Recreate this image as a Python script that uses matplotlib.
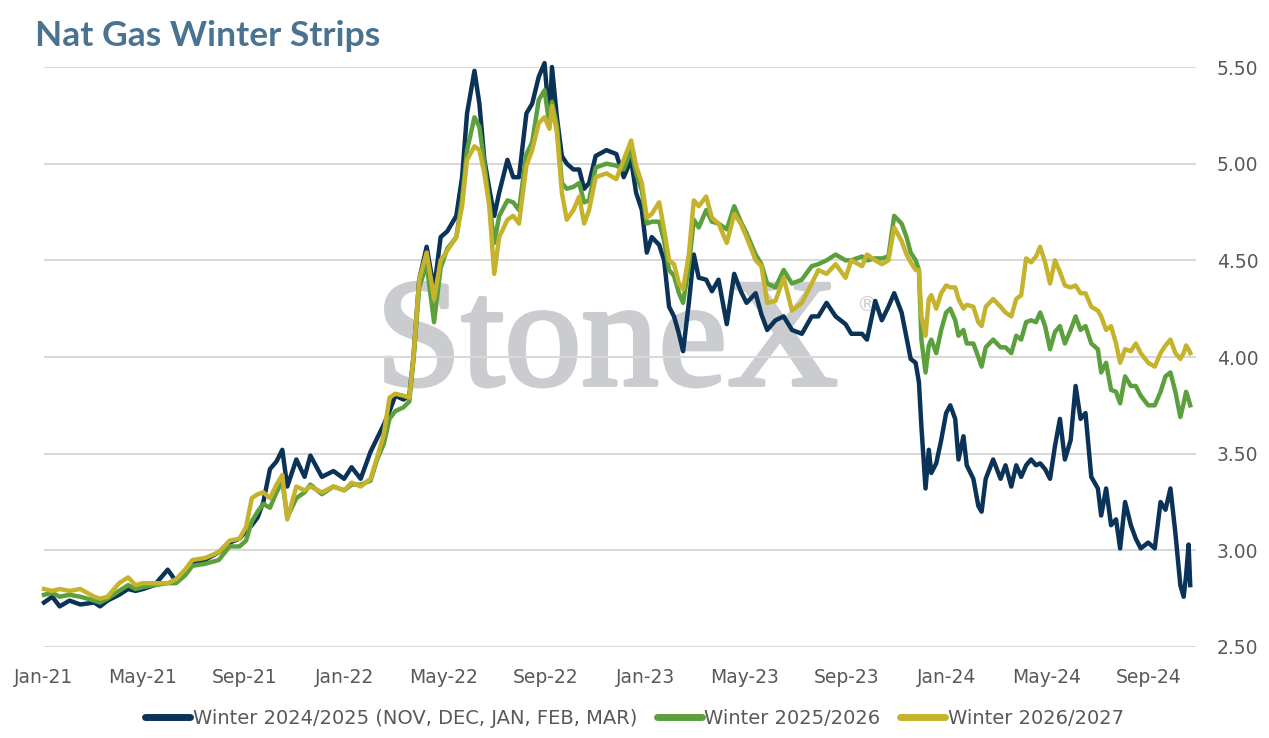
import pandas as pd
import matplotlib.pyplot as plt
import matplotlib.dates as mdates
import matplotlib.patheffects as pe

dates = [
    '2021-01-01', '2021-01-11', '2021-01-20', '2021-02-01', '2021-02-14', '2021-03-03', '2021-03-10',
    '2021-03-19', '2021-04-02', '2021-04-13', '2021-04-22', '2021-05-01', '2021-05-15', '2021-05-31',
    '2021-06-10', '2021-06-21', '2021-06-30', '2021-07-15', '2021-08-01', '2021-08-14', '2021-08-26',
    '2021-09-03', '2021-09-10', '2021-09-17', '2021-09-24', '2021-10-02', '2021-10-10', '2021-10-17',
    '2021-10-23', '2021-11-03', '2021-11-13', '2021-11-20', '2021-12-04', '2021-12-18', '2021-12-31',
    '2022-01-09', '2022-01-20', '2022-02-01', '2022-02-09', '2022-02-17', '2022-02-24', '2022-03-03',
    '2022-03-13', '2022-03-20', '2022-03-25', '2022-04-01', '2022-04-10', '2022-04-19', '2022-04-27',
    '2022-05-05', '2022-05-16', '2022-05-23', '2022-05-29', '2022-06-07', '2022-06-13', '2022-06-19',
    '2022-06-25', '2022-07-01', '2022-07-07', '2022-07-17', '2022-07-24', '2022-07-31', '2022-08-09',
    '2022-08-16', '2022-08-24', '2022-08-31', '2022-09-06', '2022-09-09', '2022-09-15', '2022-09-21',
    '2022-09-27', '2022-10-05', '2022-10-12', '2022-10-18', '2022-10-24', '2022-11-01', '2022-11-14',
    '2022-11-26', '2022-12-05', '2022-12-14', '2022-12-20', '2022-12-27', '2023-01-02', '2023-01-08',
    '2023-01-17', '2023-01-23', '2023-01-29', '2023-02-04', '2023-02-10', '2023-02-15', '2023-02-22',
    '2023-02-28', '2023-03-06', '2023-03-15', '2023-03-22', '2023-03-30', '2023-04-09', '2023-04-18',
    '2023-04-26', '2023-05-03', '2023-05-14', '2023-05-21', '2023-05-28', '2023-06-07', '2023-06-17',
    '2023-06-27', '2023-07-09', '2023-07-21', '2023-07-29', '2023-08-08', '2023-08-19', '2023-08-31',
    '2023-09-07', '2023-09-20', '2023-09-26', '2023-10-06', '2023-10-14', '2023-10-22', '2023-10-29',
    '2023-11-07', '2023-11-13', '2023-11-18', '2023-11-24', '2023-11-28', '2023-12-01', '2023-12-06',
    '2023-12-10', '2023-12-13', '2023-12-19', '2023-12-25', '2023-12-31', '2024-01-05', '2024-01-11',
    '2024-01-15', '2024-01-21', '2024-01-25', '2024-02-02', '2024-02-08', '2024-02-12', '2024-02-17',
    '2024-02-26', '2024-03-06', '2024-03-12', '2024-03-19', '2024-03-25', '2024-03-31', '2024-04-06',
    '2024-04-12', '2024-04-18', '2024-04-23', '2024-04-29', '2024-05-05', '2024-05-11', '2024-05-17',
    '2024-05-23', '2024-05-30', '2024-06-05', '2024-06-11', '2024-06-17', '2024-06-24', '2024-07-02',
    '2024-07-06', '2024-07-12', '2024-07-18', '2024-07-24', '2024-07-29', '2024-08-04', '2024-08-11',
    '2024-08-17', '2024-08-23', '2024-09-01', '2024-09-09', '2024-09-16', '2024-09-22', '2024-09-28',
    '2024-10-04', '2024-10-10', '2024-10-14', '2024-10-17', '2024-10-20', '2024-10-22',
]

winter_24_25 = [
    2.73, 2.76, 2.71, 2.74, 2.72, 2.73, 2.71, 2.74, 2.77, 2.80, 2.79, 2.80, 2.82, 2.90,
    2.84, 2.88, 2.93, 2.95, 2.99, 3.04, 3.06, 3.10, 3.13, 3.17, 3.25, 3.42, 3.46, 3.52,
    3.33, 3.47, 3.38, 3.49, 3.38, 3.41, 3.37, 3.43, 3.37, 3.51, 3.58, 3.65, 3.72, 3.80,
    3.78, 3.80, 4.00, 4.40, 4.57, 4.35, 4.62, 4.65, 4.73, 4.93, 5.26, 5.48, 5.31, 5.02,
    4.87, 4.73, 4.85, 5.02, 4.93, 4.93, 5.26, 5.31, 5.45, 5.52, 5.21, 5.50, 5.24, 5.04,
    5.00, 4.97, 4.97, 4.87, 4.90, 5.04, 5.07, 5.05, 4.93, 5.02, 4.85, 4.76, 4.54, 4.62,
    4.58, 4.50, 4.26, 4.21, 4.12, 4.03, 4.28, 4.53, 4.41, 4.40, 4.34, 4.40, 4.17, 4.43,
    4.34, 4.28, 4.33, 4.22, 4.14, 4.19, 4.21, 4.14, 4.12, 4.21, 4.21, 4.28, 4.21, 4.17,
    4.12, 4.12, 4.09, 4.29, 4.19, 4.26, 4.33, 4.23, 4.10, 3.99, 3.97, 3.87, 3.64, 3.32,
    3.52, 3.40, 3.45, 3.57, 3.71, 3.75, 3.68, 3.47, 3.59, 3.44, 3.37, 3.23, 3.20, 3.37,
    3.47, 3.37, 3.44, 3.33, 3.44, 3.38, 3.44, 3.47, 3.44, 3.45, 3.42, 3.37, 3.54, 3.68,
    3.47, 3.57, 3.85, 3.68, 3.71, 3.38, 3.32, 3.18, 3.32, 3.13, 3.16, 3.01, 3.25, 3.13,
    3.06, 3.01, 3.04, 3.01, 3.25, 3.21, 3.32, 3.09, 2.82, 2.76, 2.87, 3.03, 2.82,
]

winter_25_26 = [
    2.77, 2.78, 2.76, 2.77, 2.76, 2.74, 2.73, 2.75, 2.79, 2.82, 2.80, 2.81, 2.82, 2.83,
    2.83, 2.87, 2.92, 2.93, 2.95, 3.02, 3.02, 3.05, 3.15, 3.20, 3.24, 3.22, 3.30, 3.36,
    3.17, 3.27, 3.30, 3.34, 3.29, 3.33, 3.31, 3.34, 3.34, 3.36, 3.47, 3.55, 3.68, 3.72,
    3.74, 3.77, 3.98, 4.36, 4.48, 4.18, 4.46, 4.56, 4.62, 4.82, 5.07, 5.24, 5.19, 5.00,
    4.80, 4.59, 4.73, 4.81, 4.80, 4.76, 5.05, 5.11, 5.33, 5.38, 5.20, 5.32, 5.20, 4.90,
    4.87, 4.88, 4.90, 4.80, 4.81, 4.98, 5.00, 4.99, 4.97, 5.07, 4.95, 4.86, 4.69, 4.70,
    4.70, 4.60, 4.45, 4.42, 4.33, 4.28, 4.47, 4.71, 4.67, 4.76, 4.70, 4.69, 4.66, 4.78,
    4.70, 4.64, 4.53, 4.48, 4.38, 4.36, 4.45, 4.38, 4.40, 4.47, 4.48, 4.50, 4.53, 4.50,
    4.50, 4.52, 4.50, 4.51, 4.51, 4.52, 4.73, 4.69, 4.62, 4.54, 4.50, 4.45, 4.09, 3.92,
    4.06, 4.09, 4.02, 4.14, 4.23, 4.25, 4.19, 4.11, 4.14, 4.07, 4.07, 4.00, 3.95, 4.05,
    4.09, 4.05, 4.05, 4.02, 4.11, 4.09, 4.18, 4.19, 4.18, 4.23, 4.16, 4.04, 4.13, 4.16,
    4.07, 4.14, 4.21, 4.14, 4.16, 4.07, 4.04, 3.92, 3.97, 3.83, 3.82, 3.76, 3.90, 3.85,
    3.85, 3.80, 3.75, 3.75, 3.82, 3.90, 3.92, 3.82, 3.69, 3.76, 3.82, 3.78, 3.75,
]

winter_26_27 = [
    2.80, 2.79, 2.80, 2.79, 2.80, 2.76, 2.75, 2.76, 2.83, 2.86, 2.82, 2.83, 2.83, 2.83,
    2.85, 2.90, 2.95, 2.96, 2.99, 3.05, 3.06, 3.12, 3.27, 3.29, 3.30, 3.27, 3.34, 3.39,
    3.16, 3.33, 3.31, 3.33, 3.30, 3.33, 3.31, 3.35, 3.33, 3.37, 3.48, 3.60, 3.79, 3.81,
    3.80, 3.79, 4.00, 4.40, 4.54, 4.30, 4.50, 4.55, 4.62, 4.78, 5.02, 5.09, 5.07, 4.95,
    4.78, 4.43, 4.62, 4.71, 4.73, 4.69, 4.99, 5.07, 5.21, 5.24, 5.18, 5.30, 5.16, 4.85,
    4.71, 4.76, 4.83, 4.69, 4.76, 4.93, 4.95, 4.92, 5.02, 5.12, 4.99, 4.90, 4.72, 4.74,
    4.80, 4.66, 4.50, 4.48, 4.38, 4.35, 4.53, 4.81, 4.78, 4.83, 4.72, 4.69, 4.59, 4.74,
    4.69, 4.62, 4.50, 4.47, 4.28, 4.29, 4.41, 4.24, 4.28, 4.38, 4.45, 4.43, 4.48, 4.41,
    4.50, 4.47, 4.53, 4.50, 4.48, 4.50, 4.67, 4.60, 4.53, 4.49, 4.45, 4.45, 4.21, 4.11,
    4.30, 4.32, 4.25, 4.33, 4.37, 4.36, 4.36, 4.30, 4.25, 4.27, 4.26, 4.18, 4.16, 4.26,
    4.30, 4.26, 4.23, 4.21, 4.30, 4.32, 4.51, 4.49, 4.52, 4.57, 4.49, 4.38, 4.50, 4.44,
    4.37, 4.36, 4.37, 4.33, 4.33, 4.26, 4.24, 4.21, 4.14, 4.16, 4.07, 3.97, 4.04, 4.03,
    4.07, 4.02, 3.97, 3.95, 4.02, 4.06, 4.09, 4.02, 3.99, 4.02, 4.06, 4.04, 4.02,
]

series_names = ['Winter 2024/2025 (NOV, DEC, JAN, FEB, MAR)', 'Winter 2025/2026', 'Winter 2026/2027']
series_colors = ['#0b3357', '#5c9f3d', '#c6b32d']
y_ticks = [2.50, 3.00, 3.50, 4.00, 4.50, 5.00, 5.50]

df = pd.DataFrame({
    series_names[0]: winter_24_25,
    series_names[1]: winter_25_26,
    series_names[2]: winter_26_27,
}, index=pd.to_datetime(dates))

text_color = '#595959'
mark_color = '#cbccd0'
plt.rcParams['font.family'] = ['DejaVu Sans']

fig = plt.figure(figsize=(12.69, 7.38), dpi=100)
ax = fig.add_axes([44 / 1269, 1 - 647 / 738, (1196 - 44) / 1269, (647 - 67) / 738])

for name, color in zip(series_names, series_colors):
    ax.plot(df.index, df[name], color=color, linewidth=3.2, label=name, clip_on=False,
            solid_joinstyle='round', zorder=3)

ax.set_ylim(2.5, 5.5)
ax.set_xlim(pd.Timestamp('2021-01-01'), pd.Timestamp('2024-10-29'))
ax.set_yticks(y_ticks)
ax.yaxis.set_major_formatter(plt.FormatStrFormatter('%.2f'))
ax.yaxis.tick_right()
ax.xaxis.set_major_locator(mdates.MonthLocator(bymonth=[1, 5, 9]))
ax.xaxis.set_major_formatter(mdates.DateFormatter('%b-%y'))
ax.tick_params(axis='y', length=0, pad=15, labelsize=13.5, labelcolor=text_color)
ax.tick_params(axis='x', length=0, pad=15, labelsize=13.5, labelcolor=text_color)
ax.grid(axis='y', color='#d9d9d9', linewidth=1.5)
ax.set_axisbelow(True)
for s in ax.spines.values():
    s.set_visible(False)

# watermark sits under the gridlines and the lines
ax.text(0.288, 0.452, 'StoneX', transform=ax.transAxes, fontsize=111, family='Liberation Serif',
        color=mark_color, va='baseline', ha='left', zorder=0.2,
        path_effects=[pe.withStroke(linewidth=3, foreground=mark_color)])
ax.text(0.705, 0.590, '\u00ae', transform=ax.transAxes, fontsize=15, color=mark_color,
        va='center', ha='left', zorder=0.2)

fig.text(35 / 1269, 1 - 46 / 738, 'Nat Gas Winter Strips', fontsize=25.5, fontweight='bold',
         color='#4a7391', family='Lato', va='baseline')

fig.legend(*ax.get_legend_handles_labels(), loc='center', bbox_to_anchor=(0.5, 1 - 718 / 738),
           ncol=3, frameon=False, fontsize=14, handlelength=2.3, handletextpad=0.15,
           columnspacing=1.0, labelcolor=text_color)
for line in fig.legends[0].get_lines():
    line.set_linewidth(5)
    line.set_solid_capstyle('round')

fig.savefig('out.png', dpi=100)
